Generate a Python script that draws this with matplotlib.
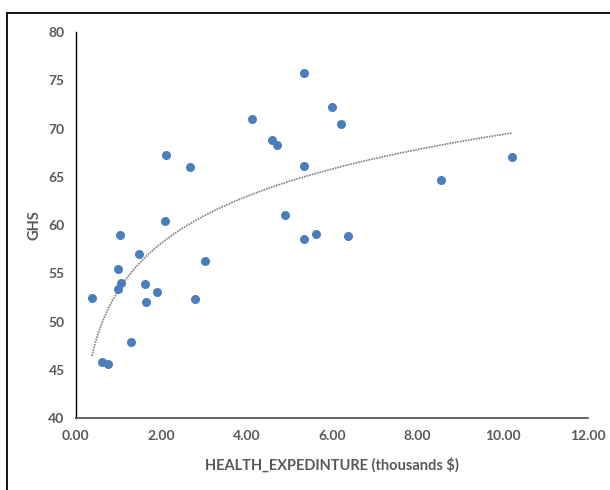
import matplotlib.pyplot as plt
import numpy as np
from matplotlib.lines import Line2D

# health expenditure (thousands $) vs GHS
health_exp = [0.38, 1.04, 0.99, 1.06, 0.99, 1.48, 1.62, 1.90, 1.65, 2.80,
              2.09, 2.12, 2.68, 3.04, 4.13, 4.60, 4.71, 5.35, 4.90, 5.35,
              5.64, 6.39, 6.01, 6.21, 5.35, 1.29, 0.61, 0.75, 10.23, 8.55]
ghs = [52.5, 58.97, 55.45, 54.0, 53.35, 57.0, 53.87, 53.07, 52.1, 52.4,
       60.38, 67.3, 65.97, 56.25, 71.0, 68.8, 68.27, 66.1, 61.07, 58.55,
       59.07, 58.86, 72.2, 70.5, 75.7, 47.9, 45.86, 45.6, 67.06, 64.65]

x_ticks = [0, 2, 4, 6, 8, 10, 12]
y_ticks = [40, 45, 50, 55, 60, 65, 70, 75, 80]

plt.rcParams['font.family'] = ['Lato', 'DejaVu Sans']
grey = '#595959'

fig = plt.figure(figsize=(6.1, 4.9), dpi=100)
ax = fig.add_axes([0.124, 0.146, 0.84, 0.789])

x = np.array(health_exp)
y = np.array(ghs)
ax.scatter(x, y, s=30, color='#4a7ebb', zorder=3)

# logarithmic trend line
b, a = np.polyfit(np.log(x), y, 1)
xs = np.linspace(x.min(), x.max(), 200)
ax.plot(xs, a + b * np.log(xs), linestyle=(0, (1, 0.6)), color='#7f7f7f',
        linewidth=1.2, zorder=2)

ax.set_xlim(0, 12)
ax.set_ylim(40, 80)
ax.set_xticks(x_ticks)
ax.set_xticklabels(['%.2f' % t for t in x_ticks])
ax.set_yticks(y_ticks)
ax.tick_params(length=0, labelsize=10, labelcolor=grey, pad=8)
for lab in ax.get_xticklabels() + ax.get_yticklabels():
    lab.set_fontweight('bold')

ax.spines['top'].set_visible(False)
ax.spines['right'].set_visible(False)
ax.spines['left'].set_color('black')
ax.spines['left'].set_linewidth(1.0)
ax.spines['bottom'].set_color('#595959')
ax.spines['bottom'].set_linewidth(1.3)

ax.set_xlabel('HEALTH_EXPEDINTURE (thousands $)', fontsize=10.5,
              fontweight='bold', color=grey, labelpad=11)
ax.set_ylabel('GHS', fontsize=10.5, fontweight='bold', color=grey, labelpad=5)

# frame around the chart area
fig.add_artist(Line2D([7.3 / 610, 7.3 / 610], [0, 1 - 13.3 / 490],
                      transform=fig.transFigure, color='black', linewidth=1.3))
fig.add_artist(Line2D([7.3 / 610, 1], [1 - 13.3 / 490, 1 - 13.3 / 490],
                      transform=fig.transFigure, color='black', linewidth=1.3))

plt.savefig('out.png')
